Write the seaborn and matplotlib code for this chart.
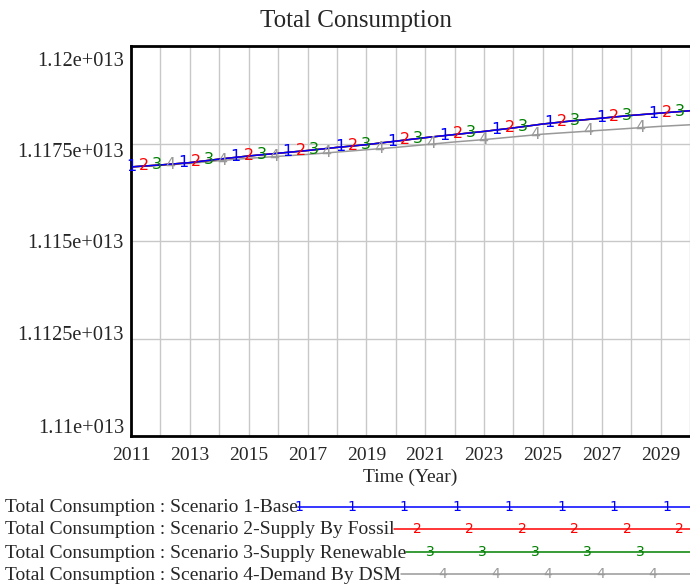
import numpy as np
import pandas as pd
import matplotlib
matplotlib.use('Agg')
import matplotlib.pyplot as plt
import matplotlib.transforms as mtransforms
import seaborn as sns
from matplotlib.lines import Line2D

# --- data (values in units of 1e13) ---
years = list(range(2011, 2031))
base = [1.11690, 1.11695, 1.11701, 1.11710, 1.11718, 1.11725, 1.11732, 1.11740,
        1.11747, 1.11756, 1.11765, 1.11773, 1.11781, 1.11790, 1.11800, 1.11808,
        1.11815, 1.11822, 1.11828, 1.11834]
fossil = [1.11690, 1.11695, 1.11701, 1.11710, 1.11718, 1.11725, 1.11732, 1.11740,
          1.11747, 1.11756, 1.11765, 1.11773, 1.11781, 1.11790, 1.11800, 1.11808,
          1.11815, 1.11822, 1.11828, 1.11834]
renewable = [1.11690, 1.11695, 1.11701, 1.11710, 1.11718, 1.11725, 1.11732, 1.11740,
             1.11747, 1.11756, 1.11765, 1.11773, 1.11781, 1.11790, 1.11800, 1.11808,
             1.11815, 1.11822, 1.11828, 1.11834]
dsm = [1.11690, 1.11694, 1.11699, 1.11706, 1.11712, 1.11717, 1.11722, 1.11728,
       1.11734, 1.11740, 1.11747, 1.11754, 1.11760, 1.11767, 1.11774, 1.11779,
       1.11784, 1.11789, 1.11794, 1.11798]

scenarios = ['Scenario 1-Base', 'Scenario 2-Supply By Fossil',
             'Scenario 3-Supply Renewable', 'Scenario 4-Demand By DSM']
colors = ['#0000ff', '#ff0000', '#008000', '#999999']
y_ticks = [1.11, 1.1125, 1.115, 1.1175, 1.12]
y_tick_labels = ['1.11e+013', '1.1125e+013', '1.115e+013', '1.1175e+013', '1.12e+013']

series = [base, fossil, renewable, dsm]
df = pd.concat([pd.DataFrame({'Year': years, 'Value': np.array(v) * 1e13, 'Scenario': s})
                for s, v in zip(scenarios, series)], ignore_index=True)

# --- plot ---
sns.set_theme(style='white')
plt.rcParams['font.family'] = ['Liberation Serif', 'DejaVu Serif']

fig = plt.figure(figsize=(6.9, 5.87), dpi=100)
ax = fig.add_axes([131 / 690, 1 - 436 / 587, 1 - 131 / 690, (436 - 46) / 587])

palette = dict(zip(scenarios, colors))
sns.lineplot(data=df, x='Year', y='Value', hue='Scenario', palette=palette,
             hue_order=[scenarios[3], scenarios[2], scenarios[1], scenarios[0]],
             linewidth=1.1, legend=False, ax=ax)

# numbered markers along each line
step = 1.776
for k, (vals, c) in enumerate(zip(series, colors)):
    xs = np.arange(2011 + k * 0.44, 2030, step)
    ys = np.interp(xs, years, np.array(vals) * 1e13)
    for x, y in zip(xs, ys):
        ax.text(x, y + 0.00001e13, str(k + 1), color=c, fontsize=11.5, ha='center', va='center',
                family=['DejaVu Sans'])

ax.set_xlim(2011, 2030)
ax.set_ylim(1.11e13, 1.12e13)
ax.set_xticks(range(2011, 2031))
ax.set_xticklabels([str(y) if (y - 2011) % 2 == 0 and y < 2030 else '' for y in range(2011, 2031)],
                   fontsize=14)
ax.set_yticks(np.array(y_ticks) * 1e13)
ax.set_yticklabels(y_tick_labels, fontsize=14.7)
ax.tick_params(axis='x', length=0, pad=8)
ax.tick_params(axis='y', length=0, pad=5)
# Vensim pulls the outer y labels toward the middle
label_shift = [-10, -6, 0, 6, 13]
for lab, d in zip(ax.get_yticklabels(), label_shift):
    lab.set_transform(lab.get_transform() +
                      mtransforms.ScaledTranslation(0, -d / 100, fig.dpi_scale_trans))
ax.grid(True, color='#c8c8c8', linewidth=1)
for side in ['left', 'top', 'bottom']:
    ax.spines[side].set_linewidth(2)
    ax.spines[side].set_color('black')
ax.spines['right'].set_visible(False)
ax.set_xlabel('Time (Year)', fontsize=14, labelpad=3)
ax.set_ylabel('')
fig.text(356 / 690, 1 - 21 / 587, 'Total Consumption', fontsize=18, ha='center', va='center')

# --- legend below the axes ---
fig.canvas.draw()
renderer = fig.canvas.get_renderer()
row_y = [507, 529, 552, 574]
first_marker = [299, 417, 430, 443]
for k, (s, c) in enumerate(zip(scenarios, colors)):
    yf = 1 - row_y[k] / 587
    t = fig.text(5 / 690, yf - 1 / 587, 'Total Consumption : ' + s, fontsize=14,
                 ha='left', va='center')
    bb = t.get_window_extent(renderer)
    x0 = bb.x1 / fig.dpi / 6.9
    fig.add_artist(Line2D([x0, 1], [yf, yf], color=c, linewidth=1.1, transform=fig.transFigure))
    for mx in np.arange(first_marker[k], 690, 52.5):
        fig.text(mx / 690, yf, str(k + 1), color=c, fontsize=10, ha='center', va='center',
                 family=['DejaVu Sans'])

fig.savefig('out.png', dpi=100)
